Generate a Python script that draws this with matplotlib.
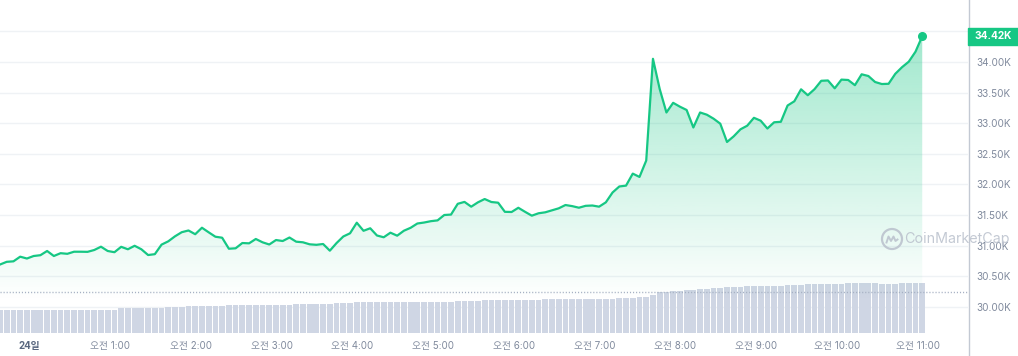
import matplotlib
matplotlib.use("Agg")
import matplotlib.pyplot as plt
import matplotlib.dates as mdates
import matplotlib.transforms as mtransforms
from matplotlib.patches import Rectangle, Ellipse
from matplotlib.lines import Line2D
import numpy as np
import pandas as pd

# BTC price, 5-minute steps
times = pd.date_range("2023-10-23 23:38:20", periods=138, freq="5min")
price = [30691, 30735, 30743, 30819, 30789, 30830, 30843, 30912, 30830, 30876,
         30866, 30900, 30900, 30898, 30928, 30982, 30912, 30892, 30980, 30940,
         30997, 30940, 30846, 30860, 31016, 31070, 31152, 31219, 31247, 31186,
         31292, 31217, 31145, 31129, 30949, 30956, 31042, 31037, 31108, 31054,
         31018, 31091, 31075, 31132, 31064, 31054, 31021, 31013, 31026, 30917,
         31042, 31149, 31201, 31374, 31242, 31283, 31165, 31136, 31211, 31162,
         31243, 31291, 31361, 31377, 31399, 31412, 31500, 31507, 31683, 31714,
         31636, 31707, 31761, 31712, 31701, 31552, 31549, 31618, 31552, 31489,
         31528, 31544, 31577, 31609, 31663, 31645, 31619, 31650, 31655, 31636,
         31707, 31868, 31966, 31980, 32176, 32122, 32390, 34052, 33559, 33175,
         33333, 33270, 33216, 32930, 33175, 33139, 33074, 32992, 32693, 32786,
         32900, 32959, 33088, 33041, 32913, 33015, 33023, 33289, 33358, 33554,
         33457, 33556, 33693, 33698, 33570, 33712, 33706, 33621, 33799, 33771,
         33673, 33640, 33644, 33807, 33915, 34005, 34168, 34420]
# volume bars (relative units)
volume = [23, 23, 23, 23, 23, 23, 23, 23, 23, 23,
          23, 23, 23, 23, 23, 23, 23, 23, 24.7, 24.7,
          24.7, 24.7, 24.7, 24.7, 24.7, 25.7, 25.7, 25.7, 27, 27,
          27, 27, 27, 27, 28, 28, 28, 28, 28, 28,
          28, 28, 28, 28, 29, 29, 29, 29, 29, 29,
          30, 30, 30, 30.7, 30.7, 30.7, 30.7, 30.7, 30.7, 30.7,
          31.3, 31.3, 31.3, 31.3, 31.3, 31.3, 31.3, 31.3, 32, 32,
          32, 32, 33, 33, 33, 33, 33, 33, 33, 33,
          33, 34, 34, 34, 34, 34, 34, 34, 34, 34,
          34, 34, 35, 35, 35, 36, 36, 38, 40.7, 41.3,
          42, 42, 43, 43, 44, 44, 45, 45, 46, 46,
          46, 46.7, 46.7, 47, 47, 47, 47, 48, 48, 48,
          49, 49, 49, 49, 49, 49, 49.7, 49.7, 49.7, 49.7,
          49.7, 48.7, 48.7, 48.7, 49.7, 49.7, 49.7, 49.7]
ref_price = 30240
price_ticks = [30000, 30500, 31000, 31500, 32000, 32500, 33000, 33500, 34000]
grid_levels = price_ticks + [34500]
hour_ticks = pd.date_range("2023-10-24 00:00", periods=12, freq="h")
hour_labels = ["24일"] + [f"오전 {h}:00" for h in range(1, 12)]

GREEN = "#16c784"
GREY_TXT = "#808a9d"

plt.rcParams["font.family"] = ["Inter", "Noto Sans CJK KR", "DejaVu Sans"]

W, H = 1018, 356
fig = plt.figure(figsize=(W / 100, H / 100), dpi=100)
rect = [0, 23 / H, 968 / W, 333 / H]
ax_vol = fig.add_axes(rect, zorder=1)
ax = fig.add_axes(rect, zorder=2, sharex=ax_vol)
ax.patch.set_visible(False)

x = mdates.date2num(times)
step = x[1] - x[0]
ylo, yhi = 29572, 35013

# grid lines sit under the volume bars
grid_tr = mtransforms.blended_transform_factory(ax_vol.transAxes, ax.transData)
for g in grid_levels:
    ax_vol.add_line(Line2D([0, 1], [g, g], transform=grid_tr, color="#eff2f5", lw=1, zorder=0))
ax_vol.bar(x, volume, width=step * 0.86, color="#cfd6e4", linewidth=0, zorder=1)
ax_vol.set_ylim(0, 333)

# price area with vertical gradient
poly = ax.fill_between(x, price, ylo, color="none", linewidth=0)
levels = np.linspace(ylo, yhi, 400)
alpha = np.clip((levels - 30100) / (34430 - 30100), 0, 1) * 0.4
grad = np.zeros((400, 1, 4))
grad[:, 0, :3] = matplotlib.colors.to_rgb(GREEN)
grad[:, 0, 3] = alpha
img = ax.imshow(grad, extent=[x[0], x[-1], ylo, yhi], aspect="auto", origin="lower", zorder=3)
img.set_clip_path(poly.get_paths()[0], ax.transData)

ax.axhline(ref_price, color="#a6b0c3", lw=1, dashes=(0.8, 1.4), zorder=3.5)
ax.plot(x, price, color=GREEN, lw=1.6, zorder=4, solid_joinstyle="round")
ax.plot(x[-1], price[-1], "o", ms=5.5, color=GREEN, zorder=5)

ax.set_ylim(ylo, yhi)
ax.set_xlim(x[0], mdates.date2num(times[-1] + pd.Timedelta(minutes=34)))

ax.yaxis.tick_right()
ax.set_yticks(price_ticks)
ax.set_yticklabels([f"{v / 1000:.2f}K" for v in price_ticks])
ax.tick_params(axis="y", length=0, pad=5.8, labelsize=7.2, labelcolor=GREY_TXT)
ax.set_xticks(mdates.date2num(hour_ticks))
ax.set_xticklabels(hour_labels)
ax.tick_params(axis="x", length=0, pad=5.5, labelsize=7, labelcolor=GREY_TXT)
first = ax.get_xticklabels()[0]
first.set_fontweight("bold")
first.set_color("#58667e")

ax_vol.tick_params(left=False, labelleft=False, bottom=False, labelbottom=False)
for a in (ax, ax_vol):
    for s in a.spines.values():
        s.set_visible(False)

# right axis line
fig.add_artist(Line2D([968.5 / W, 968.5 / W], [0, 1], transform=fig.transFigure, color="#c3c9d3", lw=1))

# current price tag
tag_tr = mtransforms.blended_transform_factory(ax.transAxes, ax.transData)
half = (yhi - ylo) * 8.3 / 333
ax.add_patch(Rectangle((1.0, price[-1] - half), 50 / 968, 2 * half, transform=tag_tr,
                       color=GREEN, clip_on=False, zorder=6))
ax.text(1.0 + 25 / 968, price[-1], f"{price[-1] / 1000:.2f}K", transform=tag_tr, ha="center",
        va="center", color="white", fontweight="bold", fontsize=7.3, clip_on=False, zorder=7)

# watermark
wm = "#b9c0cc"
fig.text(957 / W, 1 - 239 / H, "CoinMarketCap", ha="center", va="center", fontsize=10.3,
         color=wm, alpha=0.85, zorder=10)
cx, cy = 892, 239
fig.add_artist(Ellipse((cx / W, 1 - cy / H), 20 / W, 20 / H, transform=fig.transFigure,
                       fill=False, ec=wm, lw=1.6, alpha=0.85, zorder=10))
wave = [(-5.5, -3.5), (-3.5, 2.5), (-1, -2), (1.5, 2.5), (3.5, -2), (5.5, -0.5)]
fig.add_artist(Line2D([(cx + dx) / W for dx, dy in wave], [1 - (cy - dy) / H for dx, dy in wave],
                      transform=fig.transFigure, color=wm, lw=1.4, alpha=0.85, zorder=10))

fig.savefig("out.png", dpi=100)
